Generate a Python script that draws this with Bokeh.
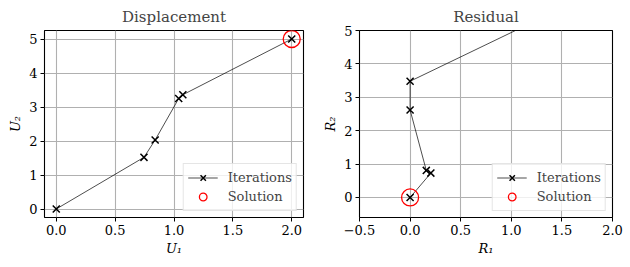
from bokeh.plotting import figure
from bokeh.layouts import row
from bokeh.models import FixedTicker, Range1d
from bokeh.embed import file_html
from bokeh.resources import INLINE

# Data
u1 = [0.0, 0.745, 0.84, 1.04, 1.075, 2.0]
u2 = [0.0, 1.52, 2.03, 3.25, 3.36, 5.0]
u_sol = ([2.0], [5.0])
r1 = [2.0, 0.0, 0.0, 0.16, 0.205, 0.0]
r2 = [6.4, 3.48, 2.62, 0.81, 0.73, 0.0]
r_sol = ([0.0], [0.0])

disp_xticks = [0.0, 0.5, 1.0, 1.5, 2.0]
disp_xlabels = ["0.0", "0.5", "1.0", "1.5", "2.0"]
disp_yticks = [0, 1, 2, 3, 4, 5]
res_xticks = [-0.5, 0.0, 0.5, 1.0, 1.5, 2.0]
res_xlabels = ["\u22120.5", "0.0", "0.5", "1.0", "1.5", "2.0"]
res_yticks = [0, 1, 2, 3, 4, 5]

FONT = "'DejaVu Serif', serif"


def style(p, xticks, xlabels, yticks, xlabel, ylabel):
    p.title.align = "center"
    p.title.text_font = FONT
    p.title.text_font_style = "normal"
    p.title.text_font_size = "15px"
    p.title.offset = 0
    p.outline_line_color = "black"
    p.outline_line_width = 1.1
    p.background_fill_color = "white"
    p.border_fill_color = "white"
    p.xaxis.ticker = FixedTicker(ticks=xticks)
    p.yaxis.ticker = FixedTicker(ticks=yticks)
    p.xaxis.major_label_overrides = {t: l for t, l in zip(xticks, xlabels)}
    p.yaxis.major_label_overrides = {t: str(t) for t in yticks}
    for ax in (p.xaxis, p.yaxis):
        ax.axis_line_color = None
        ax.major_tick_in = 0
        ax.major_tick_out = 4
        ax.major_tick_line_color = "black"
        ax.minor_tick_line_color = None
        ax.major_label_text_font = FONT
        ax.major_label_text_font_size = "13px"
        ax.major_label_text_color = "black"
        ax.axis_label_text_font = FONT
        ax.axis_label_text_font_size = "13px"
        ax.axis_label_text_font_style = "italic"
        ax.axis_label_text_color = "black"
        ax.major_label_standoff = 3
        ax.axis_label_standoff = 3
    p.xaxis.axis_label = xlabel
    p.yaxis.axis_label = ylabel
    p.grid.grid_line_color = "#b0b0b0"
    p.grid.grid_line_width = 1.1


def series(p, x, y, sx, sy):
    p.line(x, y, line_color="black", line_width=0.7, legend_label="Iterations")
    p.scatter(x, y, marker="x", size=10, line_color="black", line_width=1.5,
              legend_label="Iterations")
    p.scatter(sx, sy, marker="circle", size=17, fill_color=None,
              line_color="red", line_width=1.3, legend_label="Solution")
    lg = p.legend[0]
    lg.location = "bottom_right"
    lg.label_text_font = FONT
    lg.label_text_font_size = "13px"
    lg.border_line_color = "#cccccc"
    lg.background_fill_alpha = 0.8
    lg.glyph_width = 30
    lg.glyph_height = 19
    lg.spacing = 0
    lg.padding = 4
    lg.margin = 6
    lg.label_standoff = 10


p1 = figure(width=320, height=267, title="Displacement",
            x_range=Range1d(-0.1, 2.1), y_range=Range1d(-0.25, 5.25),
            output_backend="svg", toolbar_location=None,
            min_border_left=44, min_border_right=17,
            min_border_top=29, min_border_bottom=50)
series(p1, u1, u2, *u_sol)
style(p1, disp_xticks, disp_xlabels, disp_yticks, "U\u2081", "U\u2082")

p2 = figure(width=310, height=267, title="Residual",
            x_range=Range1d(-0.5, 2.0), y_range=Range1d(-0.6, 5.0),
            output_backend="svg", toolbar_location=None,
            min_border_left=33, min_border_right=18,
            min_border_top=29, min_border_bottom=50)
series(p2, r1, r2, *r_sol)
style(p2, res_xticks, res_xlabels, res_yticks, "R\u2081", "R\u2082")

layout = row(p1, p2)
open("out.html", "w").write(file_html(layout, INLINE))
